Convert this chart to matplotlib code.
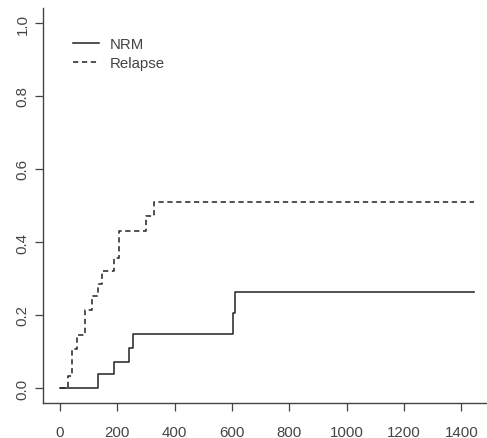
import matplotlib
matplotlib.use("Agg")
import matplotlib.pyplot as plt

# Data (step functions)
nrm_time = [0, 133, 189, 241, 253, 602, 611, 1445]
nrm_cif = [0.0, 0.037, 0.072, 0.109, 0.149, 0.206, 0.262, 0.262]

relapse_time = [0, 27, 41, 61, 88, 112, 131, 146, 188, 207, 301, 327, 1445]
relapse_cif = [0.0, 0.034, 0.106, 0.146, 0.213, 0.252, 0.286, 0.321, 0.356,
               0.429, 0.471, 0.51, 0.51]

series_labels = ["NRM", "Relapse"]
x_ticks = [0, 200, 400, 600, 800, 1000, 1200, 1400]
y_ticks = [0.0, 0.2, 0.4, 0.6, 0.8, 1.0]

plt.rcParams['font.family'] = ['Liberation Sans', 'DejaVu Sans']
plt.rcParams['lines.scale_dashes'] = False

W, H = 487, 439
fig = plt.figure(figsize=(W / 100, H / 100), dpi=100)
left_px, right_px = 43.4, 490.8
bottom_px, top_px = 403.6, 9.4
ax = fig.add_axes([left_px / W, 1 - bottom_px / H,
                   (right_px - left_px) / W, (bottom_px - top_px) / H])

line_col = '#2a2a2a'
axis_col = '#444444'
text_col = '#444444'

ax.step(nrm_time, nrm_cif, where='post', color=line_col, lw=1.15,
        label=series_labels[0])
ax.step(relapse_time, relapse_cif, where='post', color=line_col, lw=1.15,
        dashes=(3.8, 2.6), label=series_labels[1])

ax.set_xlim(-57.8, 1502.8)
ax.set_ylim(-0.04, 1.04)
ax.set_xticks(x_ticks)
ax.set_xticklabels([str(t) for t in x_ticks])
ax.set_yticks(y_ticks)
ax.set_yticklabels([f"{t:.1f}" for t in y_ticks])

for s in ['top', 'right']:
    ax.spines[s].set_visible(False)
for s in ['left', 'bottom']:
    ax.spines[s].set_color(axis_col)
    ax.spines[s].set_linewidth(1.0)

ax.tick_params(axis='both', direction='out', length=5.8, width=0.9,
               colors=axis_col, labelcolor=text_col, labelsize=10.8)
ax.tick_params(axis='x', pad=10)
ax.tick_params(axis='y', pad=4)
for lab in ax.get_yticklabels():
    lab.set_rotation(90)
    lab.set_va('center')

leg = ax.legend(loc='upper left', bbox_to_anchor=(73 / W, 1 - 38 / H),
                bbox_transform=fig.transFigure, frameon=False,
                fontsize=10.8, handlelength=1.75, handletextpad=0.7,
                labelspacing=0.35, borderpad=0, borderaxespad=0)
for t in leg.get_texts():
    t.set_color(text_col)

fig.savefig("out.png", dpi=100)
